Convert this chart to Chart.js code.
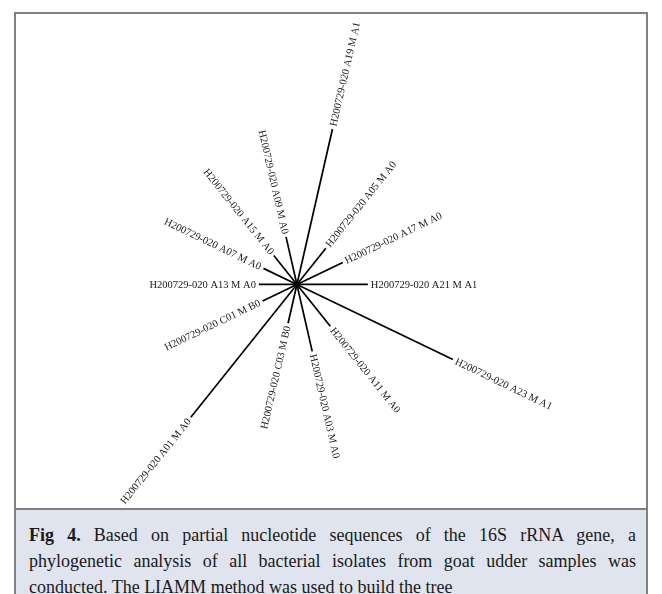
<!DOCTYPE html>
<html>
<head>
<meta charset="utf-8">
<script src="https://cdn.jsdelivr.net/npm/chart.js@4.4.1/dist/chart.umd.min.js"></script>
<style>
  html, body { margin: 0; padding: 0; background: #ffffff; width: 662px; height: 594px; overflow: hidden; }
  #tree { position: absolute; left: 0; top: 0; }
  #frame { position: absolute; left: 14px; top: 12px; width: 634px; height: 620px;
           border: 2px solid #808080; box-sizing: border-box; pointer-events: none; }
  #caption { position: absolute; left: 14px; top: 508px; width: 634px; height: 120px;
             background: #dfe4ee; border: 2px solid #808080; box-sizing: border-box;
             padding: 12px 10px 0 13px; font-family: "Liberation Serif", "DejaVu Serif", serif;
             font-size: 18px; line-height: 26px; color: #1a1a1a; }
  #caption div { white-space: nowrap; }
  #caption .j { text-align: justify; text-align-last: justify; }
</style>
</head>
<body>
<canvas id="tree" width="662" height="594"></canvas>
<div id="frame"></div>
<div id="caption">
  <div class="j"><b>Fig 4.</b> Based on partial nucleotide sequences of the 16S rRNA gene, a</div>
  <div class="j">phylogenetic analysis of all bacterial isolates from goat udder samples was</div>
  <div>conducted. The LIAMM method was used to build the tree</div>
</div>
<script>
// Leaves of the unrooted tree, in counter-clockwise order starting at the right.
const taxa = [
  'H200729-020 A21 M A1',
  'H200729-020 A17 M A0',
  'H200729-020 A05 M A0',
  'H200729-020 A19 M A1',
  'H200729-020 A09 M A0',
  'H200729-020 A15 M A0',
  'H200729-020 A07 M A0',
  'H200729-020 A13 M A0',
  'H200729-020 C01 M B0',
  'H200729-020 A01 M A0',
  'H200729-020 C03 M B0',
  'H200729-020 A03 M A0',
  'H200729-020 A11 M A0',
  'H200729-020 A23 M A1'
];

// Terminal branch lengths (substitutions per site).
const branchLengths = [
  0.0718, 0.0515, 0.0470, 0.1617, 0.0495, 0.0375, 0.0376,
  0.0385, 0.0385, 0.1722, 0.0403, 0.0696, 0.0542, 0.1753
];

// Equal-angle layout: every leaf gets the same angular sector.
const step = 2 * Math.PI / taxa.length;
const branches = taxa.map((name, i) => {
  const a = i * step;
  const L = branchLengths[i];
  return {
    label: name,
    data: [{ x: 0, y: 0 }, { x: L * Math.cos(a), y: L * Math.sin(a) }],
    showLine: true,
    borderColor: '#000000',
    borderWidth: 1.7,
    pointRadius: 0,
    fill: false
  };
});

// Hub of the star.
branches.push({
  label: 'root',
  data: [{ x: 0, y: 0 }],
  showLine: false,
  pointRadius: 2.6,
  pointBackgroundColor: '#000000',
  pointBorderWidth: 0
});

// Equal units on both axes, hub placed at (296.5, 284.3) on the canvas.
const W = 662, H = 594, hubX = 296.5, hubY = 284.3, pxPerUnit = 1000;

const tipLabels = {
  id: 'tipLabels',
  afterDatasetsDraw(chart) {
    const ctx = chart.ctx;
    const xs = chart.scales.x, ys = chart.scales.y;
    const cx = xs.getPixelForValue(0), cy = ys.getPixelForValue(0);
    ctx.save();
    ctx.fillStyle = '#1a1a1a';
    ctx.font = '10.5px "Liberation Serif", "DejaVu Serif", serif';
    ctx.textBaseline = 'middle';
    taxa.forEach((name, i) => {
      const tip = chart.data.datasets[i].data[1];
      const px = xs.getPixelForValue(tip.x), py = ys.getPixelForValue(tip.y);
      const ang = Math.atan2(py - cy, px - cx);
      ctx.save();
      ctx.translate(px, py);
      if (Math.cos(ang) < 0) {
        ctx.rotate(ang + Math.PI);
        ctx.textAlign = 'right';
        ctx.fillText(name, -3, 0.5);
      } else {
        ctx.rotate(ang);
        ctx.textAlign = 'left';
        ctx.fillText(name, 3, 0.5);
      }
      ctx.restore();
    });
    ctx.restore();
  }
};

new Chart(document.getElementById('tree'), {
  type: 'scatter',
  data: { datasets: branches },
  options: {
    responsive: false,
    animation: false,
    layout: { padding: 0 },
    plugins: { legend: { display: false }, tooltip: { enabled: false } },
    scales: {
      x: { type: 'linear', display: false, min: -hubX / pxPerUnit, max: (W - hubX) / pxPerUnit },
      y: { type: 'linear', display: false, min: -(H - hubY) / pxPerUnit, max: hubY / pxPerUnit }
    }
  },
  plugins: [tipLabels]
});
</script>
</body>
</html>
